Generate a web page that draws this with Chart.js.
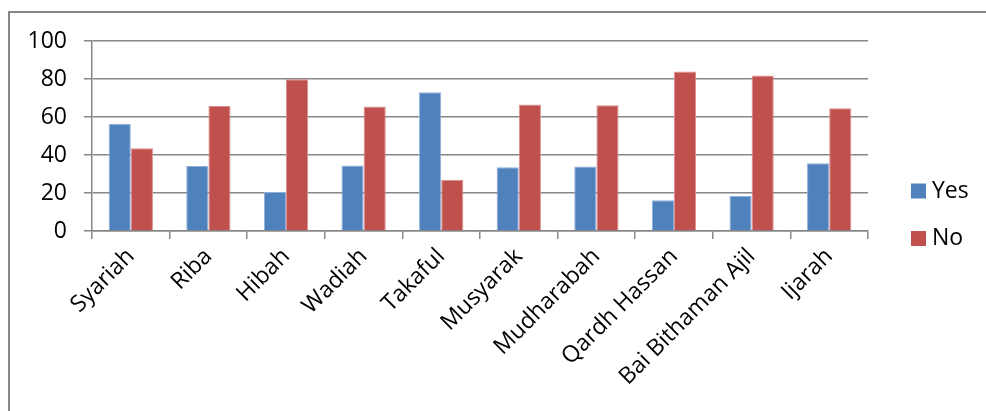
<!DOCTYPE html>
<html>
<head>
<meta charset="utf-8">
<script src="https://cdn.jsdelivr.net/npm/chart.js@4"></script>
<style>
  html, body { margin: 0; padding: 0; background: #fff; overflow: hidden; }
  #wrap { position: relative; width: 986px; height: 411px; }
  #frame { position: absolute; left: 8px; top: 11px; width: 1200px; height: 600px; border: 2px solid #878787; box-sizing: border-box; }
  canvas { position: absolute; left: 0; top: 0; }
</style>
</head>
<body>
<div id="wrap">
  <div id="frame"></div>
  <canvas id="chart" width="986" height="411"></canvas>
</div>
<script>
'use strict'

const categories = ['Syariah', 'Riba', 'Hibah', 'Wadiah', 'Takaful', 'Musyarak', 'Mudharabah', 'Qardh Hassan', 'Bai Bithaman Ajil', 'Ijarah'];
const yesValues = [56.4, 34.2, 20.5, 34.5, 73, 33.5, 33.9, 16.2, 18.4, 35.6];
const noValues = [43.6, 65.8, 79.9, 65.5, 27, 66.6, 66.2, 84, 81.8, 64.6];
const yTicks = [0, 20, 40, 60, 80, 100];

const gridColor = '#878787';
const fontFamily = "'Open Sans', 'DejaVu Sans', sans-serif";

// legend drawn at the right like the original, from the datasets
const sideLegend = {
    id: 'sideLegend',
    afterDraw(chart) {
        const c = chart.ctx;
        c.save();
        c.font = '23px ' + fontFamily;
        c.textBaseline = 'middle';
        c.textAlign = 'left';
        chart.data.datasets.forEach((ds, i) => {
            const cy = 191 + i * 47.5;
            c.fillStyle = ds.backgroundColor;
            c.fillRect(911, cy - 7.5, 15, 15);
            c.fillStyle = '#000';
            c.fillText(ds.label, 932, cy);
        });
        c.restore();
    }
};

const ctx = document.getElementById('chart').getContext('2d');
const myChart = new Chart(ctx, {
    type: 'bar',
    data: {
        labels: categories,
        datasets: [
            {
                label: 'Yes',
                data: yesValues,
                backgroundColor: '#4F81BD',
                borderColor: '#8fb0da',
                borderWidth: 1,
                categoryPercentage: 0.571,
                barPercentage: 1
            },
            {
                label: 'No',
                data: noValues,
                backgroundColor: '#C0504D',
                borderColor: '#da8f8d',
                borderWidth: 1,
                categoryPercentage: 0.571,
                barPercentage: 1
            }
        ]
    },
    options: {
        responsive: false,
        animation: false,
        layout: {
            padding: { left: 0, top: 41, right: 118, bottom: 0 }
        },
        plugins: {
            legend: { display: false },
            tooltip: { enabled: false }
        },
        scales: {
            x: {
                grid: {
                    drawOnChartArea: false,
                    drawTicks: true,
                    tickLength: 8,
                    color: gridColor,
                    lineWidth: 1.5
                },
                border: { color: gridColor, width: 1.5 },
                ticks: {
                    color: '#000',
                    font: { family: fontFamily, size: 23 },
                    minRotation: 45,
                    maxRotation: 45,
                    autoSkip: false,
                    padding: 4
                },
                afterFit(scale) { scale.height = 180; }
            },
            y: {
                min: 0,
                max: 100,
                afterBuildTicks(scale) {
                    scale.ticks = yTicks.map(v => ({ value: v }));
                },
                grid: {
                    color: gridColor,
                    lineWidth: 1.5,
                    drawTicks: true,
                    tickLength: 8
                },
                border: { color: gridColor, width: 1.5 },
                ticks: {
                    color: '#000',
                    font: { family: fontFamily, size: 23 },
                    padding: 17
                },
                afterFit(scale) { scale.width = 92; }
            }
        }
    },
    plugins: [sideLegend]
});
</script>
</body>
</html>
